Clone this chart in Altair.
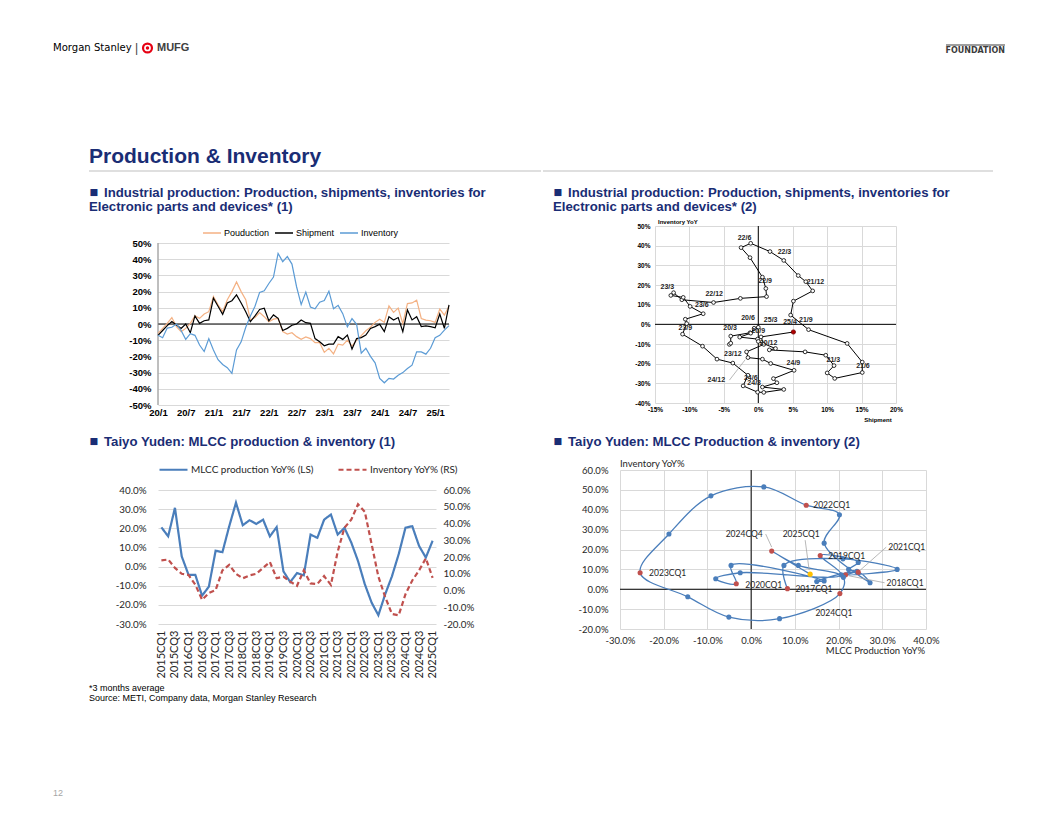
import altair as alt
import pandas as pd

ARIAL = "Liberation Sans, Arial, Helvetica, sans-serif"
NARROW = "Liberation Sans Narrow, Arial Narrow, DejaVu Sans Condensed, sans-serif"
CAL = "Lato, Carlito, Calibri, sans-serif"
NAVY = "#1A2D75"
GRID = "#D9D9D9"
TXT = "#262626"

# ---------------- data ----------------
# (1) Electronic parts & devices, YoY %, monthly 20/1 .. 25/4
c1_months = [f"{y}/{m}" for y in range(20, 26) for m in range(1, 13)][:64]
c1_tick_labels = ["20/1", "20/7", "21/1", "21/7", "22/1", "22/7", "23/1", "23/7", "24/1", "24/7", "25/1"]
c1_production = [-5.8, -2.7, 0.4, 4.0, -1.6, -4.7, -2.7, 0.4, 5.0, 3.5,
                 6.2, 7.6, 17.0, 11.8, 7.6, 15.0, 20.0, 26.0, 20.0, 15.0,
                 2.5, 4.0, 7.0, 4.5, 1.4, 3.0, 3.5, -4.7, -6.2, -5.4,
                 -7.8, -9.5, -8.0, -9.0, -11.5, -11.5, -17.5, -15.0, -18.4, -12.4,
                 -13.0, -10.0, -13.6, -10.0, -7.2, -4.2, -2.0, 1.0, 3.0, 1.0,
                 11.2, 7.2, 9.8, 0.2, 12.6, 13.0, 14.7, 3.4, 2.4, 2.0,
                 1.0, 9.2, 5.5, 11.0]
c1_shipment = [-7.0, -4.0, -1.0, 1.5, -0.6, -2.7, 0.0, -5.4, 5.0, 0.4,
               2.0, 2.5, 16.0, 11.0, 6.0, 13.0, 14.4, 18.0, 13.0, 7.6,
               1.4, 5.0, 9.0, 9.7, 2.0, 5.6, 3.5, -4.0, -2.7, -0.8,
               0.0, 2.5, 0.8, 0.4, -9.0, -11.0, -13.4, -12.4, -12.4, -7.8,
               -9.5, -6.8, -15.5, -9.0, -8.4, -6.8, -2.7, -1.6, -0.2, -4.7,
               4.5, 2.5, 4.0, -4.7, 8.7, 2.5, 4.5, -1.6, -1.2, -1.6,
               -2.3, 6.2, -2.7, 11.8]
c1_inventory = [-7.0, -8.5, -2.5, -2.0, 0.0, -4.0, -9.5, -6.0, -7.0, -13.0,
                -17.0, -9.0, -16.0, -22.0, -25.0, -27.0, -30.5, -16.0, -11.0, -2.0,
                5.0, 11.0, 19.5, 20.5, 25.0, 29.0, 43.6, 38.5, 41.6, 37.0,
                23.0, 12.0, 19.7, 10.5, 9.4, 13.5, 14.5, 20.3, 9.4, 11.5,
                6.4, -1.8, 3.3, -0.2, -18.0, -15.0, -20.0, -24.0, -33.6, -36.3,
                -33.6, -34.0, -31.6, -30.0, -27.5, -25.4, -17.2, -17.2, -18.6, -15.0,
                -8.5, -7.0, -3.8, -1.0]

# (2) shipment YoY (x) vs inventory YoY (y), 20/1 .. 25/4
c2_shipment = [-4.2, -4.0, -4.0, -1.2, 0.0, -0.6, -1.1, -2.7, -0.1, 0.0,
               2.5, 1.6, 6.8, 9.8, 11.0, 10.0, 11.1, 15.1, 15.1, 12.9,
               7.3, 4.7, 5.1, 7.9, 6.9, 5.8, 3.7, 1.7, -1.1, -2.5,
               -1.2, 0.6, 1.1, 1.2, -2.6, -6.5, -11.1, -12.3, -12.7, -10.9,
               -9.9, -8.0, -10.6, -10.4, -11.0, -8.1, -6.0, -3.7, -1.5, -2.2,
               -0.1, 0.8, 3.7, 0.6, 2.7, 2.2, 5.2, 1.8, 0.6, -1.5,
               -1.7, 0.8, 0.4, 5.1]
c2_inventory = [-10.2, -9.6, -6.0, -4.3, -1.5, -2.0, -4.5, -6.5, -7.5, -8.7,
                -12.3, -13.0, -14.0, -15.7, -21.0, -24.7, -27.5, -24.5, -19.2, -9.7,
                -2.7, 4.7, 11.8, 17.0, 21.7, 24.8, 32.5, 37.0, 41.2, 39.0,
                33.9, 24.0, 18.2, 14.1, 13.2, 11.1, 12.5, 16.1, 14.7, 13.7,
                9.1, 5.4, 2.6, 0.4, -5.0, -11.1, -17.7, -19.7, -25.9, -31.3,
                -34.5, -34.6, -33.1, -31.9, -29.7, -27.6, -23.4, -19.9, -17.7, -16.9,
                -14.0, -10.2, -6.4, -3.9]
c2_label_text = ["22/6", "22/3", "21/12", "22/9", "23/3", "22/12", "23/6", "20/6", "25/3", "25/4", "21/9",
                 "20/3", "23/9", "20/9", "20/12", "23/12", "21/3", "21/6", "24/9", "24/12", "24/6", "24/3"]
c2_label_x = [-2.0, 3.8, 8.3, 1.0, -13.2, -6.4, -8.2, -1.5, 1.8, 4.6, 6.9,
              -4.1, -10.6, 0.0, 1.5, -3.7, 10.9, 15.2, 5.1, -6.1, -1.1, -0.6]
c2_label_y = [43.7, 36.7, 21.7, 22.0, 19.0, 15.6, 9.6, 3.0, 2.2, 1.3, 2.2,
              -2.0, -2.0, -3.5, -9.5, -14.9, -18.3, -21.2, -19.8, -28.4, -27.4, -30.0]

# Taiyo Yuden MLCC, quarterly 2015CQ1 .. 2025CQ1
ty_quarters = [f"{y}CQ{q}" for y in range(2015, 2026) for q in range(1, 5)][:41]
ty_production = [20.5, 15.8, 30.7, 5.3, -4.3, -4.3, -15.2, -10.5, 8.3, 7.5,
                 21.0, 33.4, 21.6, 24.2, 22.3, 24.5, 15.8, 20.6, -2.5, -8.1,
                 -3.4, -4.6, 16.7, 15.0, 24.5, 27.2, 16.7, 20.2, 12.6, 2.9,
                 -9.2, -18.8, -25.4, -14.5, -5.1, 6.5, 20.3, 21.1, 10.8, 4.7,
                 13.5]
ty_inventory = [18.0, 18.5, 13.5, 10.0, 9.3, 3.5, -5.5, -1.5, 0.3, 12.0,
                15.3, 10.0, 7.3, 9.0, 10.0, 13.5, 17.0, 7.3, 8.3, 5.3,
                2.8, 12.0, 4.2, 3.9, 8.6, 3.3, 23.2, 37.5, 42.3, 51.5,
                47.0, 27.8, 8.3, -3.8, -14.0, -14.8, -2.2, 6.0, 12.0, 19.2,
                7.6]
ty_highlight = ["2017CQ1", "2018CQ1", "2019CQ1", "2020CQ1", "2021CQ1", "2022CQ1",
                "2023CQ1", "2024CQ1", "2024CQ4"]
ty_latest = "2025CQ1"
# label placement (pixel offsets from the point) for chart (2) of Taiyo Yuden
c4_label_text = ["2017CQ1", "2018CQ1", "2019CQ1", "2020CQ1", "2021CQ1", "2022CQ1",
                 "2023CQ1", "2024CQ1", "2024CQ4", "2025CQ1"]
c4_label_dx = [8, 41, 8, 9, 30, 7, 9, -6, -9, -9]
c4_label_dy = [0, 8, 1, 1, -25, 0, 0, 19, -17, -40]
c4_label_align = ["left", "left", "left", "left", "left", "left", "left", "center", "right", "center"]
c4_leader = {"2018CQ1": (39, 8, 3, 1), "2021CQ1": (28, -25, 2, -2),
             "2024CQ4": (-6, -17, 0, -4), "2025CQ1": (-5, -34, -1, -4)}

# ---------------- layout (page pixels of each view; views in a row share the top) ----------------
O1, W1, H1 = (157, 225), 291, 179     # data area of (1) starts 17 px below the view top
O2, W2, H2 = (652, 225), 241, 177
O3, W3, H3 = (157, 467), 278, 154     # data area starts 20 px below the view top
O4, W4, H4 = (617, 467), 306, 159
TOP1, TOP3 = 17, 20
ONE = pd.DataFrame({"k": [0]})
AX = dict(labelOverlap=False, labelFlush=False, ticks=False, tickSize=0, domain=False, title=None)
AXQ = dict(AX, tickCount=40)


def note(text, x, y, o, size=9, weight="normal", color="#000000", align="left", font=ARIAL):
    return alt.Chart(pd.DataFrame({"t": [text]})).mark_text(
        align=align, baseline="middle", fontSize=size, fontWeight=weight, color=color, font=font
    ).encode(x=alt.value(x - o[0]), y=alt.value(y - o[1]), text="t:N")


def hline(x1, x2, y, o, color, width):
    return alt.Chart(ONE).mark_rule(color=color, strokeWidth=width).encode(
        x=alt.value(x1 - o[0]), x2=alt.value(x2 - o[0]), y=alt.value(y - o[1]))


def title2(l1, l2, x, y, o):
    out = [note("\u25a0", x + 0.5, y, o, size=14.5, weight="bold", color=NAVY),
           note(l1, x + 15, y, o, size=13.2, weight="bold", color=NAVY)]
    if l2:
        out.append(note(l2, x, y + 14, o, size=13.2, weight="bold", color=NAVY))
    return out


# ---------------- chart (1) ----------------
df1 = pd.DataFrame({
    "m": list(range(64)) * 3,
    "v": c1_production + c1_shipment + c1_inventory,
    "s": ["Pouduction"] * 64 + ["Shipment"] * 64 + ["Inventory"] * 64,
})
tick_arr = "[" + ",".join(f"'{t}'" for t in c1_tick_labels) + "]"
x1 = alt.X("m:Q", scale=alt.Scale(domain=[0, 63], nice=False, zero=False),
           axis=alt.Axis(values=list(range(0, 61, 6)), labelExpr=f"{tick_arr}[round(datum.value / 6)]",
                         grid=False, labelFont=ARIAL, labelFontSize=9.5, labelFontWeight="bold",
                         labelColor="#000000", labelPadding=2, **AXQ))
y1 = alt.Y("v:Q", scale=alt.Scale(domain=[-50, 50], nice=False, range=[H1, TOP1]),
           axis=alt.Axis(values=list(range(-50, 51, 10)), labelExpr="datum.value + '%'",
                         grid=True, gridColor=GRID, labelFont=ARIAL, labelFontSize=9.5,
                         labelFontWeight="bold", labelColor="#000000", labelPadding=7, **AXQ))
lines1 = alt.Chart(df1).mark_line(strokeWidth=1.2).encode(
    x=x1, y=y1,
    color=alt.Color("s:N", scale=alt.Scale(domain=["Pouduction", "Shipment", "Inventory"],
                                           range=["#F4B183", "#000000", "#5B9BD5"]),
                    legend=alt.Legend(orient="none", legendX=44, legendY=-3, direction="horizontal",
                                      title=None, symbolType="stroke", symbolSize=324, symbolStrokeWidth=1.5,
                                      labelFont=ARIAL, labelFontSize=9, labelColor="#000000",
                                      labelOffset=2, columnPadding=2, padding=0)),
)
zero1 = alt.Chart(ONE).mark_rule(color="#000000", strokeWidth=1.2).encode(y=alt.datum(0))
yaxis1 = alt.Chart(ONE).mark_rule(color="#7F7F7F", strokeWidth=1).encode(
    x=alt.datum(0), y=alt.datum(-50), y2=alt.datum(50))
c1 = alt.layer(
    zero1, yaxis1, lines1,
    hline(40, 540, 30, O1, "white", 0.01),
    hline(40, 540, 425, O1, "white", 0.01),
    note("Morgan Stanley", 52, 47, O1, size=11.2, font=NARROW),
    note("|", 134, 47, O1, size=12, color="#404040"),
    alt.Chart(ONE).mark_point(shape="circle", filled=False, stroke="#E60012", strokeWidth=2.2,
                              size=80, opacity=1).encode(x=alt.value(146.5 - O1[0]), y=alt.value(47 - O1[1])),
    alt.Chart(ONE).mark_point(shape="circle", filled=True, fill="#E60012", size=12,
                              opacity=1).encode(x=alt.value(146.5 - O1[0]), y=alt.value(47 - O1[1])),
    note("MUFG", 156, 47, O1, size=11, weight="bold", color="#404040"),
    note("Production & Inventory", 88, 156, O1, size=21, weight="bold", color=NAVY),
    hline(88, 540, 170, O1, "#BFBFBF", 1),
    *title2("Industrial production: Production, shipments, inventories for",
            "Electronic parts and devices* (1)", 88, 192, O1),
).properties(width=W1, height=H1)

# ---------------- chart (2) ----------------
df2 = pd.DataFrame({"i": list(range(64)), "x": c2_shipment, "y": c2_inventory})
x2 = alt.X("x:Q", scale=alt.Scale(domain=[-15, 20], nice=False, zero=False),
           axis=alt.Axis(values=list(range(-15, 21, 5)), labelExpr="datum.value + '%'",
                         grid=True, gridColor=GRID, labelFont=ARIAL, labelFontSize=6.5,
                         labelFontWeight="bold", labelColor="#000000", labelPadding=3, **AXQ))
y2 = alt.Y("y:Q", scale=alt.Scale(domain=[-40, 50], nice=False, zero=False),
           axis=alt.Axis(values=list(range(-40, 51, 10)), labelExpr="datum.value + '%'",
                         grid=True, gridColor=GRID, labelFont=ARIAL, labelFontSize=6.5,
                         labelFontWeight="bold", labelColor="#000000", labelPadding=5, **AXQ))
line2 = alt.Chart(df2).mark_line(color="#000000", strokeWidth=1).encode(x=x2, y=y2, order="i:Q")
pts2 = alt.Chart(df2.iloc[:-1]).mark_point(shape="circle", filled=True, fill="white", stroke="#000000",
                                           strokeWidth=0.8, size=14, opacity=1).encode(x="x:Q", y="y:Q")
last2 = alt.Chart(df2.iloc[-1:]).mark_point(shape="circle", filled=True, fill="#B00000", stroke="#700000",
                                            strokeWidth=0.8, size=18, opacity=1).encode(x="x:Q", y="y:Q")
lab2 = alt.Chart(pd.DataFrame({"t": c2_label_text, "lx": c2_label_x, "ly": c2_label_y})).mark_text(
    fontSize=7, fontWeight="bold", color=TXT, font=ARIAL).encode(x="lx:Q", y="ly:Q", text="t:N")
lead2 = alt.Chart(pd.DataFrame({"a": [-4.2], "b": [-28.4], "c": [-1.9], "d": [-18.0]})).mark_rule(
    color="#A6A6A6", strokeWidth=0.8).encode(x="a:Q", y="b:Q", x2="c:Q", y2="d:Q")
c2 = alt.layer(
    alt.Chart(ONE).mark_rule(color="#000000", strokeWidth=1).encode(x=alt.datum(0)),
    alt.Chart(ONE).mark_rule(color="#000000", strokeWidth=1).encode(y=alt.datum(0)),
    line2, pts2, last2, lab2, lead2,
    hline(540, 1010, 30, O2, "white", 0.01),
    hline(943, 1002, 44, O2, "#7F7F7F", 1.5),
    note("FOUNDATION", 1002, 49, O2, size=8.9, weight="bold", color="#3C3C3C", align="right", font=NARROW),
    hline(540, 990, 170, O2, "#BFBFBF", 1),
    *title2("Industrial production: Production, shipments, inventories for",
            "Electronic parts and devices* (2)", 550, 192, O2),
    note("Inventory YoY", 655, 221, O2, size=6, weight="bold"),
    note("Shipment", 875, 419, O2, size=6, weight="bold", align="center"),
).properties(width=W2, height=H2)

# ---------------- Taiyo Yuden (1) ----------------
leg_dom = ["MLCC production YoY% (LS)", "Inventory YoY% (RS)"]
df3p = pd.DataFrame({"q": ty_quarters, "v": ty_production, "s": leg_dom[0]})
df3i = pd.DataFrame({"q": ty_quarters, "v": ty_inventory, "s": leg_dom[1]})
leg3 = alt.Legend(orient="none", legendX=0, legendY=-16, direction="horizontal", title=None,
                  symbolType="stroke", symbolSize=784, symbolStrokeWidth=2.2, labelFont=CAL,
                  labelFontSize=10, labelColor=TXT, labelOffset=2, columnPadding=20, padding=0)
col3 = alt.Color("s:N", scale=alt.Scale(domain=leg_dom, range=["#4A7EBB", "#C0504D"]), legend=leg3)
dash3 = alt.StrokeDash("s:N", scale=alt.Scale(domain=leg_dom, range=[[1, 0], [5, 3]]), legend=leg3)
xq = alt.X("q:N", scale=alt.Scale(domain=ty_quarters),
           axis=alt.Axis(values=ty_quarters[::2], labelAngle=270, labelFont=CAL, labelFontSize=11,
                         labelColor=TXT, labelPadding=6, **AX))
prod3 = alt.Chart(df3p).mark_line(strokeWidth=2.2).encode(
    x=xq,
    y=alt.Y("v:Q", scale=alt.Scale(domain=[-30, 40], nice=False, range=[H3, TOP3]),
            axis=alt.Axis(orient="left", values=list(range(-30, 41, 10)), labelExpr="datum.value + '.0%'",
                          grid=True, gridColor=GRID, labelFont=CAL, labelFontSize=9.8, labelColor=TXT,
                          labelPadding=12, **AXQ)),
    color=col3, strokeDash=dash3)
inv3 = alt.Chart(df3i).mark_line(strokeWidth=2.2).encode(
    x=alt.X("q:N", scale=alt.Scale(domain=ty_quarters)),
    y=alt.Y("v:Q", scale=alt.Scale(domain=[-20, 60], nice=False, range=[H3, TOP3]),
            axis=alt.Axis(orient="right", values=list(range(-20, 61, 10)), labelExpr="datum.value + '.0%'",
                          grid=False, labelFont=CAL, labelFontSize=9.8, labelColor=TXT,
                          labelPadding=7, **AXQ)),
    color=col3, strokeDash=dash3)
c3 = alt.layer(
    prod3, inv3,
    hline(40, 540, 430, O3, "white", 0.01),
    *title2("Taiyo Yuden: MLCC production & inventory (1)", None, 88, 439, O3),
    note("*3 months average", 88, 685, O3, size=9),
    note("Source: METI, Company data, Morgan Stanley Research", 88, 695, O3, size=9),
    note("12", 52, 790, O3, size=9, color="#A6A6A6"),
).resolve_scale(y="independent").properties(width=W3, height=H3)

# ---------------- Taiyo Yuden (2) ----------------
q4 = ty_quarters[8:]
kind = ["last" if q == ty_latest else ("hi" if q in ty_highlight else "base") for q in q4]
df4 = pd.DataFrame({"i": list(range(len(q4))), "q": q4, "x": ty_production[8:],
                    "y": ty_inventory[8:], "kind": kind})
sx, sy = W4 / 70.0, H4 / 80.0
pos = {q: (x, y) for q, x, y in zip(q4, ty_production[8:], ty_inventory[8:])}
lab_rows = []
for t, dx, dy, al in zip(c4_label_text, c4_label_dx, c4_label_dy, c4_label_align):
    px, py = pos[t]
    lab_rows.append({"t": t, "lx": px + dx / sx, "ly": py - dy / sy, "al": al})
lab4 = pd.DataFrame(lab_rows)
lead_rows = []
for t, (ax, ay, bx, by) in c4_leader.items():
    px, py = pos[t]
    lead_rows.append({"a": px + ax / sx, "b": py - ay / sy, "c": px + bx / sx, "d": py - by / sy})
lead4 = pd.DataFrame(lead_rows)

x4 = alt.X("x:Q", scale=alt.Scale(domain=[-30, 40], nice=False, zero=False),
           axis=alt.Axis(values=list(range(-30, 41, 10)), labelExpr="datum.value + '.0%'",
                         grid=True, gridColor=GRID, labelFont=CAL, labelFontSize=9.5, labelColor=TXT,
                         labelPadding=6, **AXQ))
y4 = alt.Y("y:Q", scale=alt.Scale(domain=[-20, 60], nice=False, zero=False),
           axis=alt.Axis(values=list(range(-20, 61, 10)), labelExpr="datum.value + '.0%'",
                         grid=True, gridColor=GRID, labelFont=CAL, labelFontSize=9.5, labelColor=TXT,
                         labelPadding=12, **AXQ))
line4 = alt.Chart(df4).mark_line(interpolate="catmull-rom", color="#4A7EBB", strokeWidth=1.3).encode(
    x=x4, y=y4, order="i:Q")
pts4 = alt.Chart(df4).mark_circle(size=26, opacity=1).encode(
    x="x:Q", y="y:Q",
    color=alt.Color("kind:N", scale=alt.Scale(domain=["base", "hi", "last"],
                                              range=["#4A7EBB", "#C0504D", "#FFC000"]), legend=None))
leaders4 = alt.Chart(lead4).mark_rule(color="#A6A6A6", strokeWidth=0.8).encode(
    x="a:Q", y="b:Q", x2="c:Q", y2="d:Q")
labs4 = [alt.Chart(lab4[lab4["al"] == al]).mark_text(align=al, baseline="middle", fontSize=8.5,
                                                      font=CAL, color=TXT).encode(
    x="lx:Q", y="ly:Q", text="t:N") for al in ["left", "center", "right"]]
c4 = alt.layer(
    alt.Chart(ONE).mark_rule(color="#000000", strokeWidth=1).encode(x=alt.datum(0)),
    alt.Chart(ONE).mark_rule(color="#000000", strokeWidth=1).encode(y=alt.datum(0)),
    line4, leaders4, pts4, *labs4,
    hline(540, 1010, 430, O4, "white", 0.01),
    *title2("Taiyo Yuden: MLCC Production & inventory (2)", None, 550, 439, O4),
    note("Inventory YoY%", 617, 461, O4, size=9.5, font=CAL, color=TXT),
    note("MLCC Production YoY%", 922, 648, O4, size=9.5, font=CAL, color=TXT, align="right"),
).properties(width=W4, height=H4)

IND = dict(color="independent", strokeDash="independent")
row1 = alt.hconcat(c1, c2, spacing=0).resolve_scale(**IND).resolve_legend(**IND)
row2 = alt.hconcat(c3, c4, spacing=0).resolve_scale(**IND).resolve_legend(**IND)
chart = alt.vconcat(row1, row2, spacing=5).resolve_scale(**IND).resolve_legend(**IND).properties(
    padding={"left": 32, "top": 22, "right": 8, "bottom": 8}
).configure_view(stroke=None)

chart.save("out.html", embed_options={"renderer": "svg", "actions": False})
